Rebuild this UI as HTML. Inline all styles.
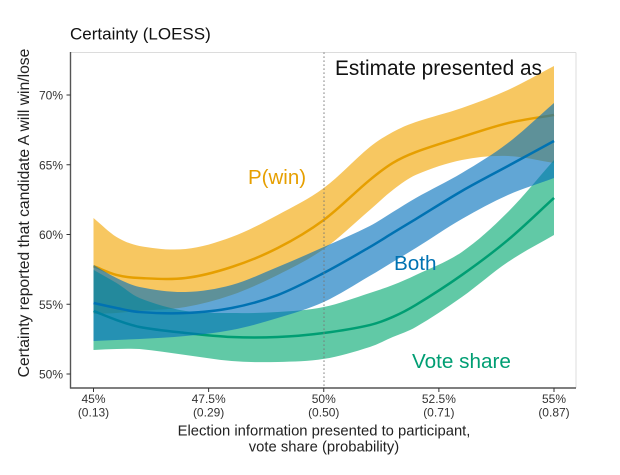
<!DOCTYPE html>
<html lang="en">
<head>
<meta charset="utf-8">
<title>Certainty (LOESS)</title>
<style>
html,body{margin:0;padding:0;background:#fff;}
svg{display:block;font-family:"Liberation Sans",Arial,sans-serif;}
</style>
</head>
<body>
<svg id="chart" width="620" height="475" viewBox="0 0 620 475" xmlns="http://www.w3.org/2000/svg"></svg>
<script>
const xValues = [45,45.5,46,47,48,49,50,51,51.5,52,53,54,55];
const xTickValues = [45,47.5,50,52.5,55];
const xTickPercentLabels = ['45%','47.5%','50%','52.5%','55%'];
const xTickProbabilityLabels = ['(0.13)','(0.29)','(0.50)','(0.71)','(0.87)'];
const yTickValues = [50,55,60,65,70];
const yTickLabels = ['50%','55%','60%','65%','70%'];

const pwinUpper = [61.18,59.82,59.18,58.96,59.82,61.40,63.33,66.27,67.35,68.06,69.07,70.36,72.08];
const pwinLower = [54.30,54.37,54.52,54.80,55.66,57.10,58.96,61.76,63.19,64.27,65.34,65.63,65.13];
const pwinMean = [57.74,57.10,56.88,56.88,57.67,59.03,61.04,63.91,65.13,65.91,66.99,67.99,68.57];

const bothUpper = [57.81,56.88,56.24,55.88,56.38,57.67,59.10,60.61,61.61,62.62,64.41,66.56,69.43];
const bothLower = [52.37,52.44,52.51,52.72,53.15,54.01,55.16,57.03,58.03,59.03,61.11,62.83,64.05];
const bothMean = [55.09,54.73,54.44,54.37,54.73,55.66,57.24,59.10,60.11,61.11,63.12,64.91,66.70];

const voteUpper = [57.46,56.52,55.45,54.52,54.37,54.44,54.80,55.81,56.38,57.10,58.75,61.61,65.34];
const voteLower = [51.72,51.79,51.79,51.36,50.93,50.86,51.08,51.94,52.65,53.37,55.52,58.03,59.96];
const voteMean = [54.52,53.87,53.37,52.94,52.65,52.65,52.94,53.51,54.09,54.95,57.10,59.61,62.62];

const NS = 'http://www.w3.org/2000/svg';
const svg = document.getElementById('chart');
const xScale = v => 93.5 + (v - 45) * 46.05;
const yScale = v => 374 - (v - 50) * 13.95;

function make(tag, attrs, text) {
  const el = document.createElementNS(NS, tag);
  for (const k in attrs) el.setAttribute(k, attrs[k]);
  if (text !== undefined) el.textContent = text;
  svg.appendChild(el);
  return el;
}
function curve(pts, move) {
  let d = (move ? 'M' : 'L') + pts[0][0].toFixed(2) + ' ' + pts[0][1].toFixed(2);
  for (let i = 0; i < pts.length - 1; i++) {
    const p0 = pts[Math.max(0, i - 1)], p1 = pts[i], p2 = pts[i + 1], p3 = pts[Math.min(pts.length - 1, i + 2)];
    const h = p2[0] - p1[0];
    const m1 = (p2[1] - p0[1]) / (p2[0] - p0[0]);
    const m2 = (p3[1] - p1[1]) / (p3[0] - p1[0]);
    const c1x = p1[0] + h / 3, c1y = p1[1] + m1 * h / 3;
    const c2x = p2[0] - h / 3, c2y = p2[1] - m2 * h / 3;
    d += 'C' + c1x.toFixed(2) + ' ' + c1y.toFixed(2) + ' ' + c2x.toFixed(2) + ' ' + c2y.toFixed(2) + ' ' + p2[0].toFixed(2) + ' ' + p2[1].toFixed(2);
  }
  return d;
}
function points(vals) { return vals.map((v, i) => [xScale(xValues[i]), yScale(v)]); }
function bandPath(up, lo) {
  const upper = points(up);
  const lower = points(lo);
  let d = curve(upper, true);
  const rev = lower.slice().reverse();
  d += curve(rev, false);
  return d + 'Z';
}

/* panel border */
const borderTop = make('line', {x1:70.5, x2:576, y1:52.5, y2:52.5, stroke:'#dcdcdc', 'stroke-width':1});


const borderRight = make('line', {x1:576, x2:576, y1:52.5, y2:388, stroke:'#dcdcdc', 'stroke-width':1});



/* series: P(win), then vote share, then both on top */
const bandPwin = make('path', {d:bandPath(pwinUpper, pwinLower), fill:'#F2A500', 'fill-opacity':0.62});


const linePwin = make('path', {d:curve(points(pwinMean), true), fill:'none', stroke:'#E69F00', 'stroke-width':2.5});



const bandVote = make('path', {d:bandPath(voteUpper, voteLower), fill:'#00A870', 'fill-opacity':0.62});


const lineVote = make('path', {d:curve(points(voteMean), true), fill:'none', stroke:'#009E73', 'stroke-width':2.5});



const bandBoth = make('path', {d:bandPath(bothUpper, bothLower), fill:'#0070BB', 'fill-opacity':0.62});


const lineBoth = make('path', {d:curve(points(bothMean), true), fill:'none', stroke:'#0072B2', 'stroke-width':2.5});



/* reference line at 50% */
const refLine = make('line', {x1:324, x2:324, y1:52.5, y2:388, stroke:'#777', 'stroke-width':1.2, 'stroke-dasharray':'1.2 2.8'});



/* axes */
const yAxis = make('line', {x1:70.5, x2:70.5, y1:52, y2:388.5, stroke:'#555', 'stroke-width':1.4});


const xAxis = make('line', {x1:70, x2:576, y1:388, y2:388, stroke:'#555', 'stroke-width':1.4});



yTickValues.forEach((v, i) => {
  const t = make('line', {x1:66.5, x2:70.5, y1:yScale(v), y2:yScale(v), stroke:'#333', 'stroke-width':1});
  
  
  const l = make('text', {x:63, y:yScale(v) + 4.5, 'text-anchor':'end', 'font-size':12, fill:'#333'}, yTickLabels[i]);
  
  
});
xTickValues.forEach((v, i) => {
  const t = make('line', {x1:xScale(v), x2:xScale(v), y1:388, y2:392, stroke:'#333', 'stroke-width':1});
  
  
  const l1 = make('text', {x:xScale(v), y:403, 'text-anchor':'middle', 'font-size':12, fill:'#333'}, xTickPercentLabels[i]);
  
  
  const l2 = make('text', {x:xScale(v), y:416.5, 'text-anchor':'middle', 'font-size':12, fill:'#333'}, xTickProbabilityLabels[i]);
  
  
});
</script>
<script>
(function(){
  const NS2 = 'http://www.w3.org/2000/svg';
  const host = document.getElementById('chart');
  function txt(name, attrs, s) {
    const el = document.createElementNS(NS2, 'text');
    for (const k in attrs) el.setAttribute(k, attrs[k]);
    
    
    el.textContent = s;
    host.appendChild(el);
  }
  txt('chart-title', {x:70, y:39.5, 'font-size':17, fill:'#111'}, 'Certainty (LOESS)');
  txt('x-axis-title-line-1', {x:324, y:435.5, 'text-anchor':'middle', 'font-size':14.8, fill:'#222'}, 'Election information presented to participant,');
  txt('x-axis-title-line-2', {x:324, y:451.5, 'text-anchor':'middle', 'font-size':14.8, fill:'#222'}, 'vote share (probability)');
  txt('y-axis-title', {x:0, y:0, transform:'translate(29,213) rotate(-90)', 'text-anchor':'middle', 'font-size':15.7, fill:'#222'}, 'Certainty reported that candidate A will win/lose');
  txt('legend-heading', {x:335, y:75, 'font-size':20.8, fill:'#111'}, 'Estimate presented as');
  txt('pwin-label', {x:248, y:184, 'font-size':20.5, fill:'#E69F00'}, 'P(win)');
  txt('both-label', {x:394, y:270, 'font-size':20.7, fill:'#0072B2'}, 'Both');
  txt('vote-share-label', {x:412, y:368, 'font-size':20.7, fill:'#009E73'}, 'Vote share');
})();
</script>
</body>
</html>
